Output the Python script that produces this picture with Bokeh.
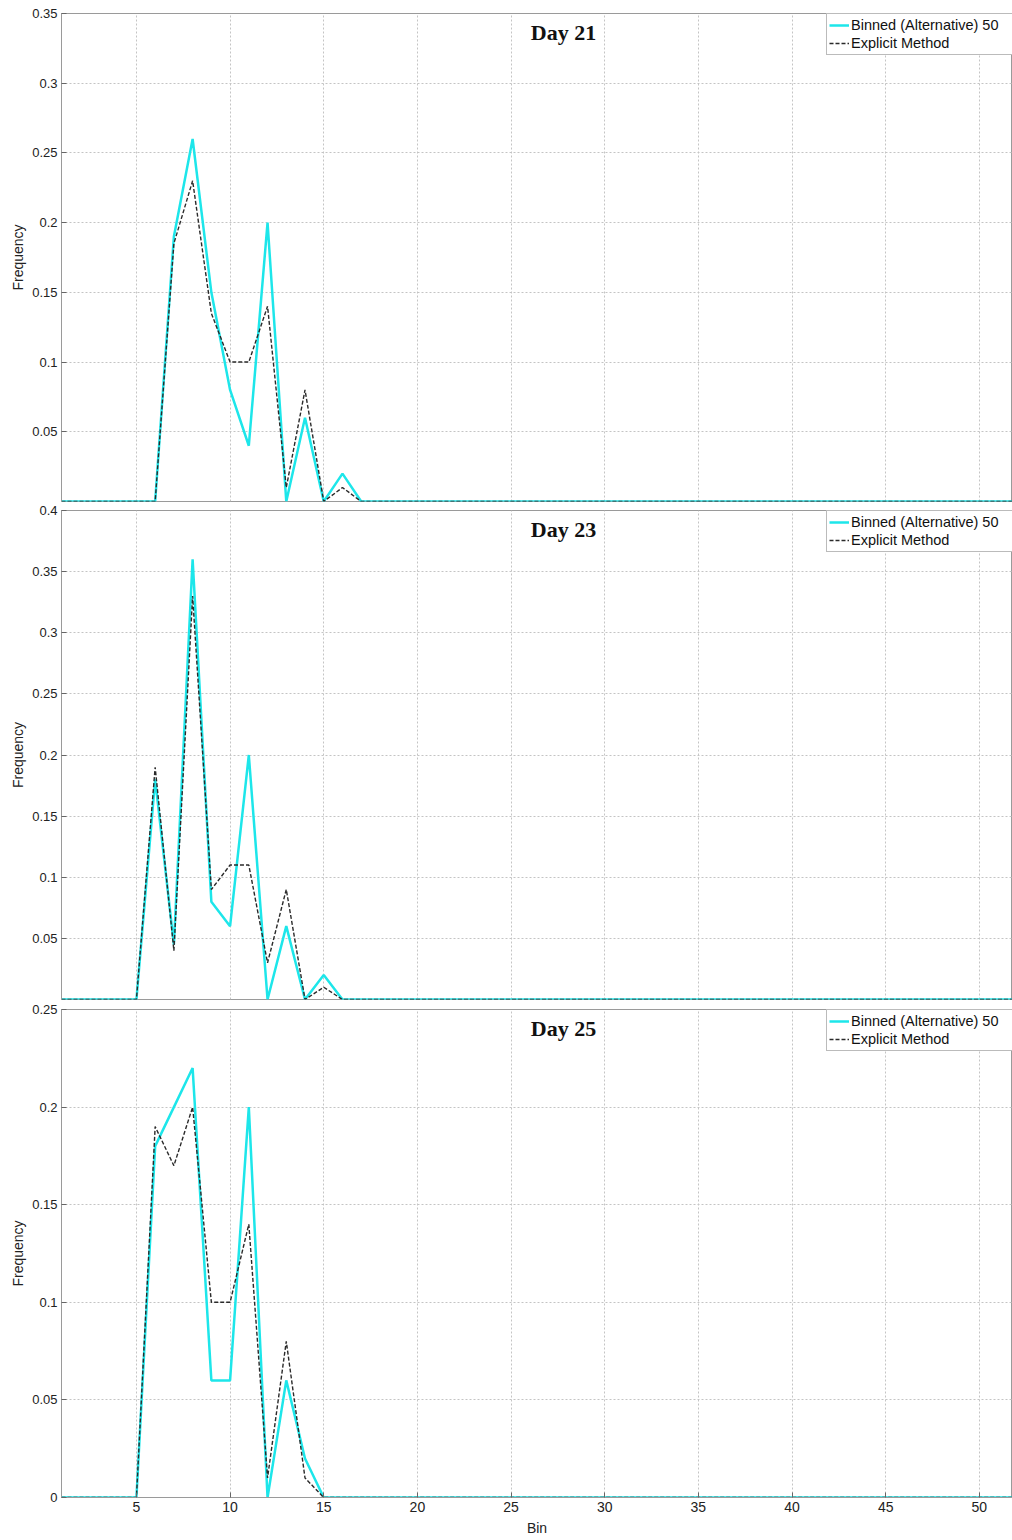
from bokeh.plotting import figure
from bokeh.layouts import column
from bokeh.models import Range1d, FixedTicker, Label, Legend, LegendItem
from bokeh.embed import file_html
from bokeh.resources import INLINE

# ---------------- data ----------------
bins = list(range(1, 53))

day21_binned = [0, 0, 0, 0, 0, 0, 0.19, 0.26, 0.15, 0.08, 0.04, 0.20, 0, 0.06, 0, 0.02, 0,
                0, 0, 0, 0, 0, 0, 0, 0, 0, 0, 0, 0, 0, 0, 0, 0, 0, 0, 0,
                0, 0, 0, 0, 0, 0, 0, 0, 0, 0, 0, 0, 0, 0, 0, 0]
day21_explicit = [0, 0, 0, 0, 0, 0, 0.185, 0.23, 0.135, 0.10, 0.10, 0.14, 0.01, 0.08, 0, 0.01, 0,
                  0, 0, 0, 0, 0, 0, 0, 0, 0, 0, 0, 0, 0, 0, 0, 0, 0, 0, 0,
                  0, 0, 0, 0, 0, 0, 0, 0, 0, 0, 0, 0, 0, 0, 0, 0]

day23_binned = [0, 0, 0, 0, 0, 0.18, 0.045, 0.36, 0.08, 0.06, 0.20, 0, 0.06, 0, 0.02, 0,
                0, 0, 0, 0, 0, 0, 0, 0, 0, 0, 0, 0, 0, 0, 0, 0, 0, 0, 0, 0,
                0, 0, 0, 0, 0, 0, 0, 0, 0, 0, 0, 0, 0, 0, 0, 0]
day23_explicit = [0, 0, 0, 0, 0, 0.19, 0.04, 0.33, 0.09, 0.11, 0.11, 0.03, 0.09, 0, 0.01, 0,
                  0, 0, 0, 0, 0, 0, 0, 0, 0, 0, 0, 0, 0, 0, 0, 0, 0, 0, 0, 0,
                  0, 0, 0, 0, 0, 0, 0, 0, 0, 0, 0, 0, 0, 0, 0, 0]

day25_binned = [0, 0, 0, 0, 0, 0.18, 0.20, 0.22, 0.06, 0.06, 0.20, 0, 0.06, 0.02, 0,
                0, 0, 0, 0, 0, 0, 0, 0, 0, 0, 0, 0, 0, 0, 0, 0, 0, 0, 0, 0, 0,
                0, 0, 0, 0, 0, 0, 0, 0, 0, 0, 0, 0, 0, 0, 0, 0, 0]
day25_explicit = [0, 0, 0, 0, 0, 0.19, 0.17, 0.20, 0.10, 0.10, 0.14, 0.01, 0.08, 0.01, 0,
                  0, 0, 0, 0, 0, 0, 0, 0, 0, 0, 0, 0, 0, 0, 0, 0, 0, 0, 0, 0, 0,
                  0, 0, 0, 0, 0, 0, 0, 0, 0, 0, 0, 0, 0, 0, 0, 0, 0]

titles = ["Day 21", "Day 23", "Day 25"]
x_ticks = [5, 10, 15, 20, 25, 30, 35, 40, 45, 50]
y_ticks_21 = [0.05, 0.1, 0.15, 0.2, 0.25, 0.3, 0.35]
y_ticks_23 = [0.05, 0.1, 0.15, 0.2, 0.25, 0.3, 0.35, 0.4]
y_ticks_25 = [0, 0.05, 0.1, 0.15, 0.2, 0.25]
y_max = [0.35, 0.4, 0.25]
series_label_1 = "Binned (Alternative) 50"
series_label_2 = "Explicit Method"

CYAN = "#1de6ea"
FONT = "Liberation Sans"
TEXT = "#222222"
FRAME = "#9a9a9a"
GRID = "#c4c4c4"

W = 1012
LEFT = 61


def make_panel(title, ys1, ys2, ymax, yticks, bottom, top_b, bot_b, plot_h):
    height = top_b + plot_h + bot_b
    p = figure(width=W, height=height, output_backend="svg", toolbar_location=None,
               x_range=Range1d(1, 51.77), y_range=Range1d(0, ymax),
               min_border_left=LEFT, min_border_right=0,
               min_border_top=top_b, min_border_bottom=bot_b,
               background_fill_color="white", border_fill_color="white")
    p.outline_line_color = FRAME
    p.outline_line_width = 1

    # grid
    p.xgrid.ticker = FixedTicker(ticks=x_ticks)
    p.ygrid.ticker = FixedTicker(ticks=yticks)
    for g in (p.xgrid[0], p.ygrid[0]):
        g.grid_line_color = GRID
        g.grid_line_dash = "2 2"
        g.grid_line_width = 1

    # y axis
    ya = p.yaxis[0]
    ya.ticker = FixedTicker(ticks=yticks)
    ya.axis_label = "Frequency"
    ya.axis_label_text_font = FONT
    ya.axis_label_text_font_size = "14px"
    ya.axis_label_text_font_style = "normal"
    ya.axis_label_text_color = TEXT
    ya.axis_label_standoff = 3
    ya.major_label_text_font = FONT
    ya.major_label_text_font_size = "13px"
    ya.major_label_text_color = TEXT
    ya.major_label_standoff = 4
    ya.major_tick_in = 5
    ya.major_tick_out = 0
    ya.minor_tick_in = 0
    ya.minor_tick_out = 0
    ya.axis_line_color = FRAME
    ya.major_tick_line_color = "#666666"

    xa = p.xaxis[0]
    xa.ticker = FixedTicker(ticks=x_ticks)
    if bottom:
        xa.axis_label = "Bin"
        xa.axis_label_text_font = FONT
        xa.axis_label_text_font_size = "14px"
        xa.axis_label_text_font_style = "normal"
        xa.axis_label_text_color = TEXT
        xa.axis_label_standoff = 5
        xa.major_label_text_font = FONT
        xa.major_label_text_font_size = "14px"
        xa.major_label_text_color = TEXT
        xa.major_label_standoff = 4
        xa.major_tick_in = 5
        xa.major_tick_out = 0
        xa.minor_tick_in = 0
        xa.minor_tick_out = 0
        xa.axis_line_color = FRAME
        xa.major_tick_line_color = "#666666"
    else:
        xa.visible = False

    r1 = p.line(bins, ys1, line_color=CYAN, line_width=2.5)
    r2 = p.line(bins, ys2, line_color="#2a2a2a", line_width=1.4, line_dash="4 2")

    legend = Legend(items=[LegendItem(label=series_label_1, renderers=[r1]),
                           LegendItem(label=series_label_2, renderers=[r2])],
                    location=(765, plot_h - 42))
    legend.label_text_font = FONT
    legend.label_text_font_size = "14.5px"
    legend.label_text_color = "#111111"
    legend.label_standoff = 2
    legend.label_height = 18
    legend.label_width = 185
    legend.glyph_height = 18
    legend.glyph_width = 20
    legend.spacing = 0
    legend.padding = 2
    legend.margin = 0
    legend.border_line_color = "#777777"
    legend.border_line_width = 1
    legend.background_fill_alpha = 1
    p.add_layout(legend)

    lbl = Label(x=502, y=plot_h - 19, x_units="screen", y_units="screen", text=title,
                text_font="Liberation Serif", text_font_style="bold", text_font_size="22px",
                text_color="#111111", text_align="center", text_baseline="middle")
    p.add_layout(lbl)
    return p


p1 = make_panel(titles[0], day21_binned, day21_explicit, y_max[0], y_ticks_21, False, 13, 1, 488)
p2 = make_panel(titles[1], day23_binned, day23_explicit, y_max[1], y_ticks_23, False, 8, 1, 489)
p3 = make_panel(titles[2], day25_binned, day25_explicit, y_max[2], y_ticks_25, True, 9, 42, 488)

layout = column(p1, p2, p3, spacing=0)

with open("out.html", "w") as f:
    f.write(file_html(layout, INLINE))
